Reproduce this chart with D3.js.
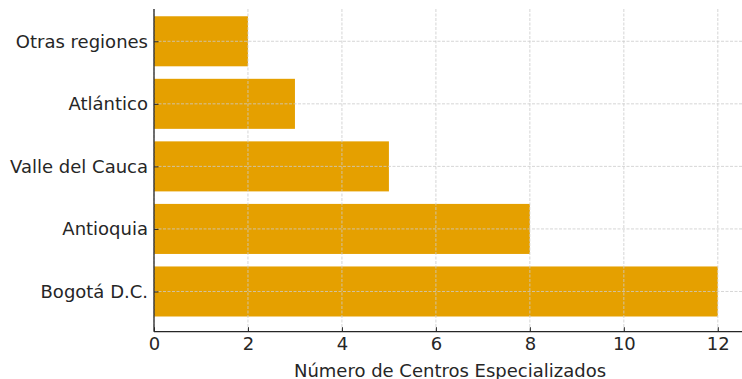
<!DOCTYPE html>
<html>
<head>
<meta charset="utf-8">
<script src="https://cdn.jsdelivr.net/npm/d3@7"></script>
<style>
  html, body { margin: 0; padding: 0; background: #fff; }
  svg text { font-family: "DejaVu Sans", sans-serif; fill: #262626; }
</style>
</head>
<body>
<div id="graph-container"></div>
<script>

// data, bottom to top
var regions = ['Bogotá D.C.', 'Antioquia', 'Valle del Cauca', 'Atlántico', 'Otras regiones'];
var centros = [12, 8, 5, 3, 2];
var x_ticks = [0, 2, 4, 6, 8, 10, 12];
var x_label = 'Número de Centros Especializados';

var W = 742, H = 379;
var plot = {left: 154, right: 746, top: 9, bottom: 331.7};
var bar_color = '#e5a000';
var grid_color = '#cccccc';
var font_size = 18;

var svg = d3.select('#graph-container').append('svg')
    .attr('width', W).attr('height', H);

var x = d3.scaleLinear().domain([0, 12.6]).range([plot.left, plot.right]);
// index -> pixel, matplotlib style margins around the bars
var y = d3.scaleLinear().domain([-0.643, 4.64]).range([plot.bottom, plot.bottom - 5.283 * 62.55]);
var bar_h = 0.8 * 62.55;

var data = regions.map((r, i) => ({region: r, value: centros[i], i: i}));

// bars
svg.append('g').selectAll('rect').data(data).enter()
    .append('rect')
    .attr('x', x(0))
    .attr('y', d => y(d.i) - bar_h / 2)
    .attr('width', d => x(d.value) - x(0))
    .attr('height', bar_h)
    .style('fill', bar_color);

// grid over the bars
var grid = svg.append('g').attr('class', 'grid');
grid.selectAll('.vline').data(x_ticks).enter()
    .append('line')
    .attr('x1', d => x(d)).attr('x2', d => x(d))
    .attr('y1', plot.top).attr('y2', plot.bottom)
    .style('stroke', grid_color).style('stroke-width', 0.8).style('stroke-dasharray', '3,1.5');
grid.selectAll('.hline').data(data).enter()
    .append('line')
    .attr('x1', plot.left).attr('x2', plot.right)
    .attr('y1', d => y(d.i)).attr('y2', d => y(d.i))
    .style('stroke', grid_color).style('stroke-width', 0.8).style('stroke-dasharray', '3,1.5');

// x axis, ticks point inward
var x_axis = d3.axisBottom(x).tickValues(x_ticks).tickSize(-4.5).tickPadding(10).tickSizeOuter(0);
var gx = svg.append('g').attr('transform', `translate(0,${plot.bottom})`).call(x_axis);
gx.select('.domain').attr('d', `M${plot.left},0H${W}`);
gx.selectAll('.tick text').attr('dy', '0.71em');

// y axis
var y_axis = d3.axisLeft(y).tickValues(data.map(d => d.i)).tickFormat(i => regions[i])
    .tickSize(-4.5).tickPadding(6).tickSizeOuter(0);
var gy = svg.append('g').attr('transform', `translate(${plot.left},0)`).call(y_axis);
gy.select('.domain').attr('d', `M0,${plot.top}V${plot.bottom}`);
gy.selectAll('.tick text').attr('x', -6);
gx.selectAll('.tick text').attr('y', 6);

[gx, gy].forEach(g => {
    g.select('.domain').style('stroke', '#262626').style('stroke-width', 1.3);
    g.selectAll('.tick line').style('stroke', '#262626').style('stroke-width', 1);
    g.selectAll('.tick text').style('font-size', font_size + 'px').style('font-family', '"DejaVu Sans", sans-serif').style('fill', '#262626');
});

svg.append('text')
    .attr('x', (plot.left + plot.right) / 2)
    .attr('y', 376.5)
    .style('text-anchor', 'middle')
    .style('font-size', font_size + 'px')
    .text(x_label);

</script>
</body>
</html>
